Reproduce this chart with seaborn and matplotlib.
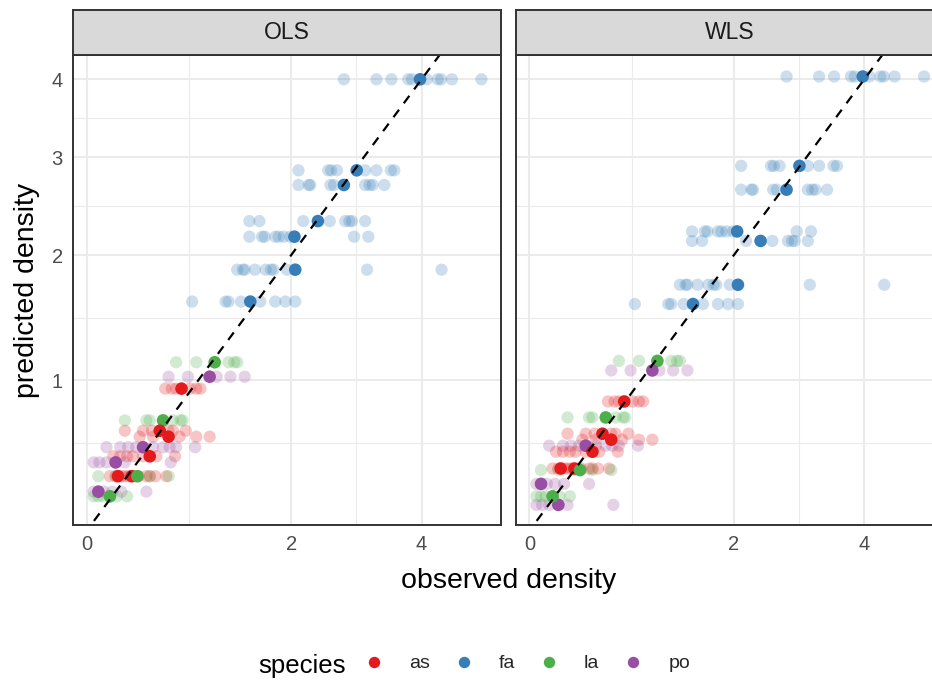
import numpy as np
import pandas as pd
import matplotlib
matplotlib.use("Agg")
import matplotlib.pyplot as plt
import seaborn as sns
from matplotlib.lines import Line2D

# ---- data: one entry per group (species x treatment level) ----
group_species = ["fa", "fa", "fa", "fa", "fa", "fa", "fa",
                 "la", "po", "as", "la", "as", "as", "po",
                 "as", "po", "as", "as", "la", "po", "la"]
pred_ols = [4.00, 2.85, 2.69, 2.32, 2.17, 1.87, 1.60,
            1.13, 1.025, 0.94, 0.72, 0.65, 0.61, 0.54,
            0.48, 0.44, 0.35, 0.35, 0.35, 0.25, 0.22]
pred_wls = [4.04, 2.90, 2.64, 2.13, 2.22, 1.74, 1.58,
            1.14, 1.07, 0.85, 0.74, 0.63, 0.59, 0.55,
            0.51, 0.165, 0.40, 0.40, 0.39, 0.30, 0.22]
observed = [
    [2.70, 3.20, 3.45, 3.75, 3.82, 4.10, 4.32, 4.39, 4.62, 5.30],
    [2.09, 2.48, 2.52, 2.60, 3.02, 3.20, 3.44, 3.50],
    [2.09, 2.22, 2.24, 2.51, 2.56, 3.02, 3.09, 3.14, 3.33],
    [1.52, 1.63, 2.15, 2.50, 2.72, 2.78, 2.82, 3.02],
    [1.52, 1.66, 1.69, 1.81, 1.85, 1.91, 1.99, 2.85, 3.07],
    [1.39, 1.45, 1.47, 1.58, 1.70, 1.76, 1.79, 1.95, 3.05, 4.40],
    [0.94, 1.27, 1.30, 1.43, 1.64, 1.81, 1.93, 2.05],
    [0.79, 0.98, 1.30, 1.36, 1.39],
    [0.72, 0.90, 1.18, 1.32, 1.47],
    [0.69, 0.75, 0.79, 0.92, 0.98, 1.02],
    [0.33, 0.52, 0.55, 0.76, 0.83, 0.85],
    [0.33, 0.49, 0.57, 0.72, 0.76, 0.88],
    [0.46, 0.58, 0.82, 0.98, 1.11],
    [0.17, 0.29, 0.36, 0.43, 0.58, 0.67, 0.73, 0.79, 0.97],
    [0.23, 0.29, 0.35, 0.40, 0.49, 0.61, 0.78],
    [0.06, 0.11, 0.17, 0.25, 0.33, 0.74],
    [0.20, 0.30, 0.36, 0.42, 0.55, 0.70],
    [0.25, 0.33, 0.45, 0.52, 0.60],
    [0.10, 0.25, 0.40, 0.55, 0.72],
    [0.06, 0.10, 0.15, 0.22, 0.30, 0.52],
    [0.06, 0.10, 0.14, 0.20, 0.26, 0.35],
]
mean_observed = [3.97, 2.89, 2.70, 2.34, 2.04, 2.05, 1.53,
                 1.16, 1.11, 0.84, 0.67, 0.64, 0.72, 0.49,
                 0.55, 0.25, 0.27, 0.39, 0.44, 0.10, 0.20]

species_order = ["as", "fa", "la", "po"]
species_colors = ["#E41A1C", "#377EB8", "#4DAF4A", "#984EA3"]
models = ["OLS", "WLS"]

rows, means = [], []
for model, preds in zip(models, [pred_ols, pred_wls]):
    for sp, pr, obs, mo in zip(group_species, preds, observed, mean_observed):
        for o in obs:
            rows.append({"model": model, "species": sp, "observed": o, "predicted": pr})
        means.append({"model": model, "species": sp, "observed": mo, "predicted": pr})
points = pd.DataFrame(rows)
centres = pd.DataFrame(means)

# ---- styling ----
sns.set_theme(style="white")
plt.rcParams["font.family"] = ["Liberation Sans", "DejaVu Sans"]
palette = dict(zip(species_order, species_colors))
border = "#333333"
grid_col = "#EBEBEB"


def fwd(v):
    return np.arcsinh(np.asarray(v, dtype=float) / 2.0)


def inv(t):
    return 2.0 * np.sinh(np.asarray(t, dtype=float))


def midpoint_minors(majors, lo, hi):
    t = fwd(majors)
    step = t[1] - t[0]
    t = np.concatenate([[t[0] - step], t, [t[-1] + step]])
    mids = (t[:-1] + t[1:]) / 2
    vals = inv(mids)
    return vals[(vals > lo) & (vals < hi)]


xlim = (-0.116, 5.79)
ylim = (0.036, 4.36)
x_major = [0, 2, 4]
y_major = [1, 2, 3, 4]

W, H = 932, 683
fig = plt.figure(figsize=(W / 100, H / 100), dpi=100)

panel_w = 427.4
panel_lefts = [73.3, 516.0]
panel_top, panel_bottom = 55.0, 525.0
strip_top = 10.0

for i, model in enumerate(models):
    left = panel_lefts[i]
    ax = fig.add_axes([left / W, 1 - panel_bottom / H, panel_w / W,
                       (panel_bottom - panel_top) / H])
    ax.set_xscale("function", functions=(fwd, inv))
    ax.set_yscale("function", functions=(fwd, inv))
    ax.set_facecolor("white")

    sub = points[points.model == model]
    sns.scatterplot(data=sub, x="observed", y="predicted", hue="species",
                    hue_order=species_order, palette=palette, alpha=0.25,
                    s=78, linewidth=0, legend=False, ax=ax)
    subm = centres[centres.model == model]
    sns.scatterplot(data=subm, x="observed", y="predicted", hue="species",
                    hue_order=species_order, palette=palette, alpha=1.0,
                    s=82, linewidth=0, legend=False, ax=ax)

    line_x = np.linspace(xlim[0], xlim[1], 400)
    ax.plot(line_x, line_x, color="black", lw=1.6, ls=(0, (4.2, 3.6)), zorder=5)

    ax.set_xlim(*xlim)
    ax.set_ylim(*ylim)
    ax.set_xticks(x_major)
    ax.set_xticks(midpoint_minors(x_major, *xlim), minor=True)
    ax.set_yticks(y_major)
    ax.set_yticks(midpoint_minors(y_major, *ylim), minor=True)
    ax.set_xticklabels([str(v) for v in x_major])
    ax.set_yticklabels([str(v) for v in y_major])
    ax.grid(which="major", color=grid_col, lw=1.5)
    ax.grid(which="minor", color=grid_col, lw=0.8)
    ax.set_axisbelow(True)
    ax.tick_params(which="minor", length=0)
    ax.tick_params(which="major", length=4.5, width=1.1, color=border,
                   labelsize=14.5, labelcolor="#4D4D4D", pad=3.0)
    if i == 1:
        ax.tick_params(axis="y", left=False, labelleft=False)
    ax.set_xlabel("")
    ax.set_ylabel("")
    for sp in ax.spines.values():
        sp.set_color(border)
        sp.set_linewidth(1.4)
        sp.set_visible(True)

    sax = fig.add_axes([left / W, 1 - panel_top / H, panel_w / W,
                        (panel_top - strip_top) / H])
    sax.set_facecolor("#D9D9D9")
    sax.set_xticks([])
    sax.set_yticks([])
    for sp in sax.spines.values():
        sp.set_color(border)
        sp.set_linewidth(1.4)
    sax.text(0.5, 0.5, model, ha="center", va="center", fontsize=16.5,
             color="#1A1A1A", transform=sax.transAxes)

# axis titles
fig.text(508.5 / W, 1 - 588.5 / H, "observed density", ha="center",
         va="baseline", fontsize=20.5, color="black")
fig.text(27 / W, 1 - 290 / H, "predicted density", ha="center",
         va="center", rotation=90, fontsize=20.5, color="black")

# legend
handles = [Line2D([], [], ls="", marker="o", markersize=8.2,
                  markerfacecolor=c, markeredgewidth=0) for c in species_colors]
fig.legend(handles, species_order, ncol=4, frameon=False,
           loc="center left", bbox_to_anchor=(364 / W, 1 - 663.5 / H),
           fontsize=14, handlelength=1.0, handletextpad=1.3,
           columnspacing=1.25, borderpad=0, borderaxespad=0)
fig.text(258 / W, 1 - 673 / H, "species", ha="left", va="baseline",
         fontsize=18.5, color="black")

fig.savefig("out.png", dpi=100)
